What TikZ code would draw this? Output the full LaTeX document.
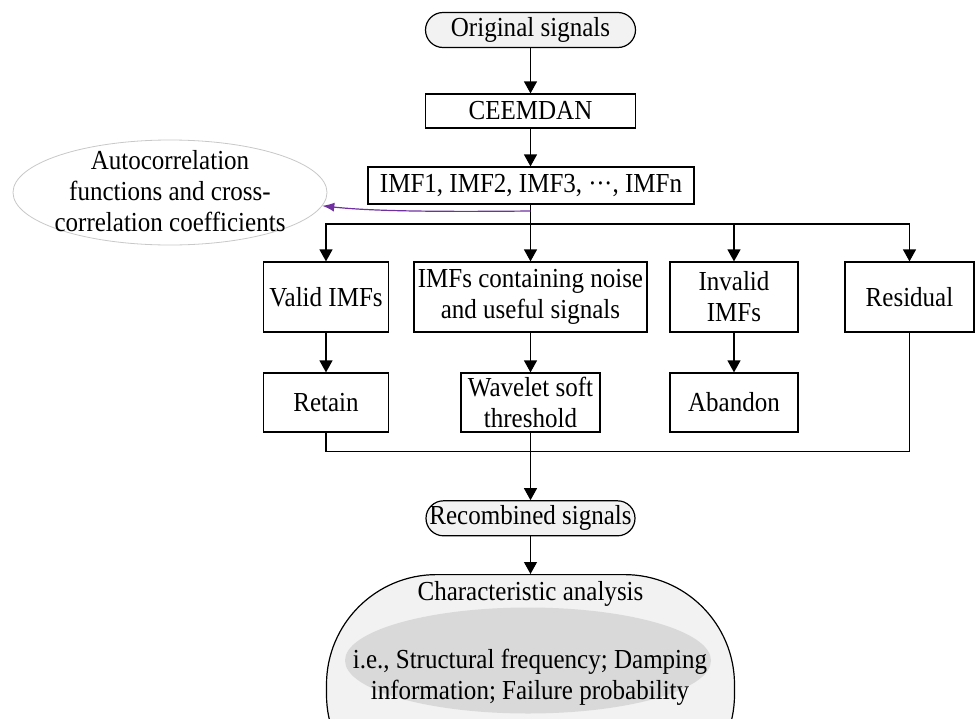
\documentclass[tikz,border=0pt]{standalone}
\usepackage{fontspec}
\setmainfont{Liberation Serif}[FakeStretch=0.91]
\usetikzlibrary{arrows.meta,shapes.geometric}
\definecolor{pfill}{HTML}{F2F2F2}
\definecolor{ifill}{HTML}{D9D9D9}
\definecolor{ellline}{HTML}{C8C8C8}
\definecolor{purp}{HTML}{7030A0}
\begin{document}
\begin{tikzpicture}[x=1pt,y=-1pt,
  every node/.style={font=\fontsize{27.5}{31}\selectfont, align=center, inner sep=0pt},
  box/.style={draw, line width=1.2pt, fill=white},
  capsule/.style={draw, line width=1.2pt, fill=pfill, rounded corners=17.5pt},
  arr/.style={line width=1.2pt, -{Triangle[length=12pt,width=13pt]}},
  ln/.style={line width=1.2pt}]
\useasboundingbox (0,0) rectangle (975,718);
\clip (0,0) rectangle (975,718);
\fill[white] (0,0) rectangle (975,718);

% top chain
\node[capsule, minimum width=210pt, minimum height=35pt] (orig) at (530.5,30) {Original signals};
\node[box, minimum width=210pt, minimum height=34pt] (ceem) at (530.5,111) {CEEMDAN};
\node[box, minimum width=326pt, minimum height=37pt] (imf) at (531,185.5) {IMF1, IMF2, IMF3, ·\kern-0.5pt·\kern-0.5pt·, IMFn};

% ellipse
\node[ellipse, draw=ellline, line width=0.8pt, minimum width=314pt, minimum height=105pt] (acf) at (170,192.5) {};
\node[align=center] (acft) at (170,191) {Autocorrelation\\functions and cross-\\correlation coefficients};

% middle row
\node[box, minimum width=125pt, minimum height=70pt] (valid) at (326,297) {Valid IMFs};
\node[box, minimum width=233pt, minimum height=70pt] (noisy) at (530.5,297) {IMFs containing noise\\and useful signals};
\node[box, minimum width=128pt, minimum height=70pt] (invalid) at (734,297) {Invalid\\IMFs};
\node[box, minimum width=129pt, minimum height=70pt] (resid) at (909.5,297) {Residual};

% lower row
\node[box, minimum width=125pt, minimum height=59pt] (retain) at (326,402.5) {Retain};
\node[box, minimum width=139pt, minimum height=59pt] (wave) at (530.5,402.5) {Wavelet soft\\threshold};
\node[box, minimum width=128pt, minimum height=59pt] (aband) at (734,402.5) {Abandon};

% recombined
\node[capsule, minimum width=209pt, minimum height=35pt] (recomb) at (530.5,518.3) {Recombined signals};

% characteristic analysis
\node[draw, line width=1.2pt, fill=pfill, rounded corners=110pt, minimum width=408pt, minimum height=230pt, anchor=north] (charac) at (530.5,574) {};
\node (chart) at (530.5,594) {Characteristic analysis};
\node[ellipse, fill=ifill, minimum width=366pt, minimum height=106pt] (inner) at (528,660.5) {};
\node (innert) at (530,677) {i.e., Structural frequency; Damping\\information; Failure probability};

% connectors
\coordinate (br) at (530.5,224);
\coordinate (mg) at (530.5,451.7);
\draw[arr] (orig) -- (ceem);
\draw[arr] (ceem) -- (imf.north -| ceem.south);
\draw[arr] (imf.south -| noisy.north) -- (noisy.north);
\draw[arr] (br) -| (valid.north);
\draw[arr] (br) -| (invalid.north);
\draw[arr] (br) -| (resid.north);
\draw[arr] (valid) -- (retain);
\draw[arr] (noisy) -- (wave);
\draw[arr] (invalid) -- (aband);
\draw[ln] (retain.south) |- (mg) -| (resid.south);
\draw[arr] (wave.south) -- (recomb.north);
\draw[arr] (recomb.south) -- (charac.north);
\coordinate (ps) at (530.5,211);
\draw[purp, line width=1.2pt, -{Latex[length=12pt,width=9pt]}] (ps) .. controls (430,212) and (370,211) .. (acf.-5);
\end{tikzpicture}
\end{document}
